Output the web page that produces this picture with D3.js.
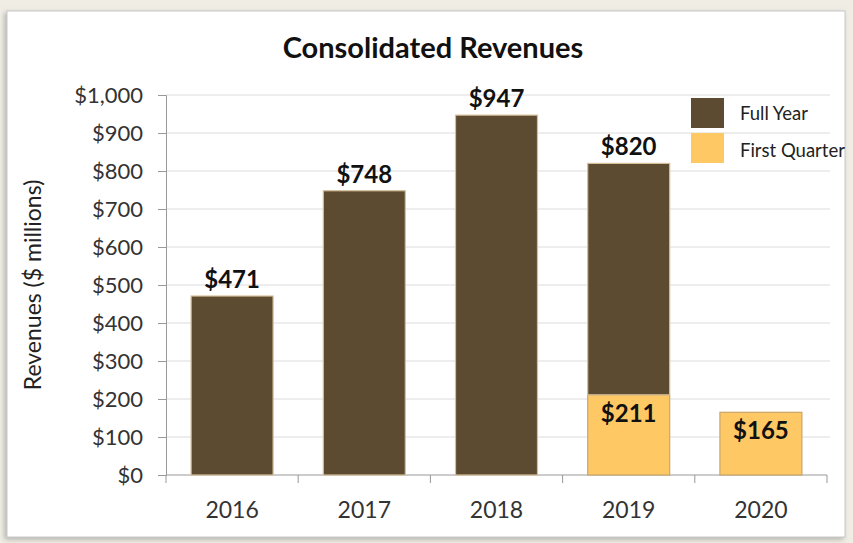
<!DOCTYPE html>
<html><head><meta charset="utf-8">
<script src="https://cdn.jsdelivr.net/npm/d3@7"></script>
<style>
html,body{margin:0;padding:0;background:#efede4;}
svg{display:block;font-family:Lato,"Open Sans",sans-serif;}
</style></head>
<body>
<svg id="c" width="853" height="543"></svg>
<script>
const years = ["2016","2017","2018","2019","2020"];
const fullYear = [471, 748, 947, 820, null];
const firstQuarter = [null, null, null, 211, 165];
const yTicks = [0,100,200,300,400,500,600,700,800,900,1000];
const seriesNames = ["Full Year","First Quarter"];
const colors = {"Full Year":"#5c4a31","First Quarter":"#fec865"};

const svg = d3.select("#c");
const defs = svg.append("defs");
const f = defs.append("filter").attr("id","sh").attr("x","-5%").attr("y","-5%").attr("width","110%").attr("height","110%");
f.append("feDropShadow").attr("dx",-2).attr("dy",2).attr("stdDeviation",2.5).attr("flood-color","#888").attr("flood-opacity",0.6);

svg.append("rect").attr("x",7).attr("y",11).attr("width",838).attr("height",526)
  .attr("fill","#fff").attr("stroke","#c8c8c8").attr("stroke-width",1).attr("filter","url(#sh)");

const m = {left:166, right:827, top:95, bottom:475};
const x = d3.scaleBand().domain(years).range([m.left,m.right]).paddingInner(0.38).paddingOuter(0.19);
const y = d3.scaleLinear().domain([0,1000]).range([m.bottom,m.top]);

// grid
svg.append("g").selectAll("line").data(yTicks.filter(d=>d>0)).join("line")
  .attr("x1",m.left).attr("x2",m.right+3).attr("y1",d=>y(d)).attr("y2",d=>y(d))
  .attr("stroke","#dcdcdc").attr("stroke-width",1);

// y axis
const ya = svg.append("g").attr("transform",`translate(${m.left},0)`)
  .call(d3.axisLeft(y).tickValues(yTicks).tickSize(8).tickPadding(15).tickFormat(d=>"$"+d3.format(",")(d)));
ya.select(".domain").attr("stroke","#999");
ya.selectAll(".tick line").attr("stroke","#999");
ya.selectAll("text").attr("font-size",22).attr("fill","#333").attr("font-family","Lato,sans-serif");

// x axis
const xa = svg.append("g").attr("transform",`translate(0,${m.bottom})`);
xa.append("line").attr("x1",m.left).attr("x2",m.right).attr("stroke","#999");
const bounds = d3.range(years.length+1).map(i=>m.left + i*(m.right-m.left)/years.length);
xa.selectAll(".t").data(bounds).join("line").attr("x1",d=>d).attr("x2",d=>d).attr("y1",0).attr("y2",8).attr("stroke","#999");
xa.selectAll("text").data(years).join("text").attr("x",d=>x(d)+x.bandwidth()/2).attr("y",43)
  .attr("text-anchor","middle").attr("font-size",23).attr("fill","#333").text(d=>d);

// bars
const rows = years.map((yr,i)=>({yr, fy:fullYear[i], fq:firstQuarter[i]}));
const g = svg.append("g");
rows.forEach(r=>{
  const base = r.fq || 0;
  if (r.fq) {
    g.append("rect").attr("x",x(r.yr)).attr("width",x.bandwidth())
      .attr("y",y(r.fq)).attr("height",y(0)-y(r.fq))
      .attr("fill",colors["First Quarter"]).attr("stroke","#c9a56a").attr("stroke-width",1.2);
  }
  if (r.fy) {
    g.append("rect").attr("x",x(r.yr)).attr("width",x.bandwidth())
      .attr("y",y(r.fy)).attr("height",y(base)-y(r.fy))
      .attr("fill",colors["Full Year"]).attr("stroke","#d6bf96").attr("stroke-width",1.2);
    g.append("text").attr("x",x(r.yr)+x.bandwidth()/2).attr("y",y(r.fy)-8)
      .attr("text-anchor","middle").attr("font-size",24).attr("font-weight","bold").attr("fill","#111")
      .text("$"+r.fy);
  }
  if (r.fq) {
    g.append("text").attr("x",x(r.yr)+x.bandwidth()/2).attr("y",y(r.fq)+27)
      .attr("text-anchor","middle").attr("font-size",24).attr("font-weight","bold").attr("fill","#111")
      .text("$"+r.fq);
  }
});

// title
svg.append("text").attr("x",433).attr("y",58).attr("text-anchor","middle")
  .attr("font-size",29).attr("font-weight","bold").attr("fill","#111").text("Consolidated Revenues");

// y label
svg.append("text").attr("transform","translate(41,285) rotate(-90)").attr("text-anchor","middle")
  .attr("font-size",23).attr("fill","#222").text("Revenues ($ millions)");

// legend
const lg = svg.append("g");
seriesNames.forEach((s,i)=>{
  lg.append("rect").attr("x",691).attr("y",98+i*35).attr("width",33).attr("height",30).attr("fill",colors[s]);
  lg.append("text").attr("x",740).attr("y",120+i*37).attr("font-size",18.5).attr("fill","#222").text(s);
});
</script>
</body></html>
